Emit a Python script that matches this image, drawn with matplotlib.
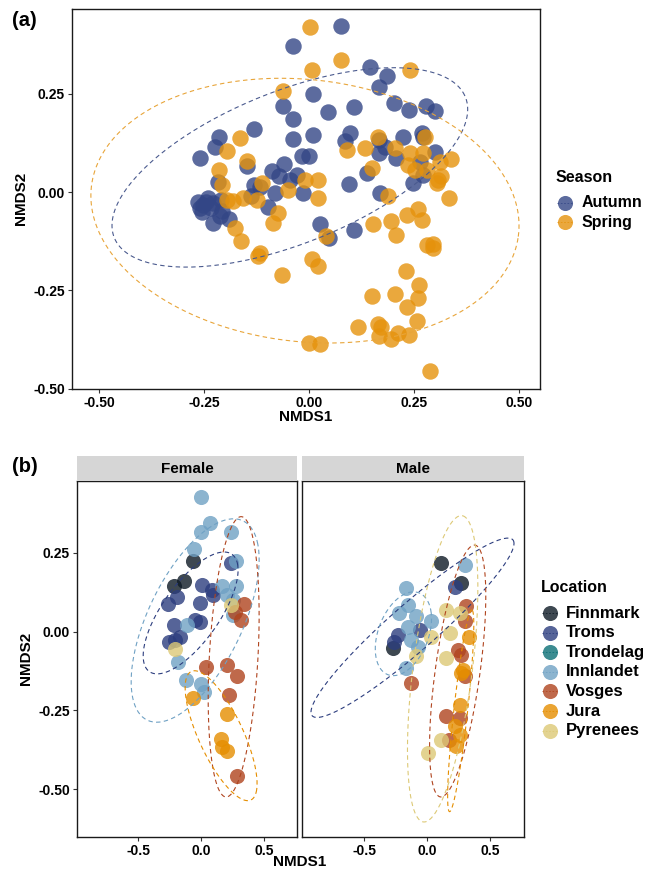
import numpy as np
import matplotlib
matplotlib.use('Agg')
import matplotlib.pyplot as plt

plt.rcParams['font.family'] = ['Liberation Sans', 'DejaVu Sans']
plt.rcParams['axes.unicode_minus'] = False

# ---------------- data: panel (a) ----------------
seasons = ['Autumn', 'Spring']
autumn_x = [-0.039, 0.010, -0.062, -0.039, -0.039, 0.010, -0.131, -0.214, -0.224, -0.260,
            -0.147, -0.216, -0.089, -0.060, -0.071, -0.030, -0.018, 0.000, 0.045, -0.131,
            -0.117, -0.081, -0.014, -0.046, 0.077, 0.146, 0.186, 0.167, 0.107, 0.202,
            0.238, 0.278, 0.301, 0.097, 0.085, 0.167, 0.180, 0.223, 0.268, 0.272,
            0.167, 0.207, 0.301, 0.264, 0.272, 0.137, 0.095, 0.169, -0.252, -0.261,
            -0.240, -0.235, -0.245, -0.255, -0.230, -0.265, -0.228, -0.191, -0.211, -0.207,
            -0.212, -0.097, -0.139, 0.026, 0.047, 0.108, 0.248]
autumn_y = [0.373, 0.249, 0.219, 0.185, 0.136, 0.146, 0.160, 0.141, 0.116, 0.087,
            0.067, 0.025, 0.055, 0.072, 0.042, 0.044, 0.092, 0.092, 0.205, 0.019,
            0.013, -0.002, -0.001, 0.032, 0.422, 0.318, 0.295, 0.268, 0.216, 0.227,
            0.209, 0.219, 0.206, 0.150, 0.129, 0.133, 0.116, 0.141, 0.151, 0.141,
            0.099, 0.087, 0.103, 0.078, 0.044, 0.050, 0.022, -0.002, -0.032, -0.040,
            -0.015, -0.040, -0.025, -0.050, -0.028, -0.025, -0.078, -0.068, -0.019, -0.049,
            -0.061, -0.038, -0.011, -0.082, -0.116, -0.097, 0.023]
spring_x = [0.002, 0.006, -0.063, 0.077, 0.240, -0.165, -0.195, -0.147, -0.214, -0.208,
            -0.196, -0.181, -0.157, -0.125, -0.113, -0.074, -0.085, -0.050, -0.010, 0.022,
            0.022, -0.177, 0.165, 0.089, 0.133, 0.204, 0.276, 0.240, 0.272, 0.236,
            0.252, 0.280, 0.311, 0.339, 0.307, 0.315, 0.149, 0.188, 0.334, 0.232,
            0.260, 0.268, 0.153, 0.196, 0.305, -0.162, -0.117, -0.123, -0.064, 0.006,
            0.020, 0.039, 0.207, 0.280, 0.295, 0.295, 0.231, 0.262, 0.260, 0.205,
            0.149, 0.233, 0.258, 0.116, 0.164, 0.170, 0.166, 0.194, 0.211, 0.238,
            0.000, 0.026, 0.289]
spring_y = [0.420, 0.312, 0.258, 0.337, 0.310, 0.137, 0.106, 0.080, 0.057, 0.019,
            -0.019, -0.023, -0.015, -0.021, 0.023, -0.053, -0.078, 0.006, 0.030, 0.032,
            -0.015, -0.091, 0.141, 0.108, 0.112, 0.112, 0.140, 0.099, 0.099, 0.070,
            0.057, 0.057, 0.078, 0.084, 0.032, 0.040, 0.061, -0.009, -0.015, -0.057,
            -0.044, -0.071, -0.082, -0.074, 0.023, -0.125, -0.154, -0.163, -0.211, -0.169,
            -0.189, -0.112, -0.108, -0.135, -0.133, -0.141, -0.200, -0.237, -0.270, -0.259,
            -0.265, -0.291, -0.327, -0.344, -0.335, -0.344, -0.365, -0.373, -0.358, -0.363,
            -0.384, -0.386, -0.454]

# 95% ellipses of panel (a) (centre, semi-axes, angle in degrees)
ell_a_group = ['Autumn', 'Spring']
ell_a_cx = [-0.046, -0.010]
ell_a_cy = [0.063, -0.047]
ell_a_major = [0.455, 0.5125]
ell_a_minor = [0.192, 0.333]
ell_a_angle = [23.7, -7.4]

# ---------------- data: panel (b) ----------------
locations = ['Finnmark', 'Troms', 'Trondelag', 'Innlandet', 'Vosges', 'Jura', 'Pyrenees']
sexes = ['Female', 'Male']

female_loc = (['Finnmark'] * 3 + ['Troms'] * 13 + ['Innlandet'] * 16 + ['Vosges'] * 8
              + ['Jura'] * 5 + ['Pyrenees'] * 2)
female_x = [-0.066, -0.220, -0.135,
            0.239, -0.194, -0.268, 0.005, 0.085, 0.098, -0.008, -0.048, -0.008, -0.220, -0.167, -0.260, -0.207,
            0.000, 0.072, 0.000, 0.239, -0.061, 0.279, 0.165, 0.279, 0.204, 0.257, 0.257, -0.114, -0.181, -0.119, 0.000, 0.024,
            0.342, 0.271, 0.318, 0.040, 0.204, 0.289, 0.225, 0.289,
            -0.066, 0.204, 0.159, 0.165, 0.204,
            0.236, -0.207]
female_y = [0.222, 0.145, 0.159,
            0.217, 0.111, 0.088, 0.148, 0.132, 0.116, 0.090, 0.037, 0.029, 0.021, -0.016, -0.032, -0.026,
            0.426, 0.345, 0.317, 0.317, 0.261, 0.225, 0.143, 0.143, 0.116, 0.100, 0.053, 0.021, -0.095, -0.155, -0.167, -0.190,
            0.088, 0.063, 0.037, -0.111, -0.106, -0.140, -0.201, -0.457,
            -0.211, -0.261, -0.340, -0.366, -0.377,
            0.085, -0.056]

male_loc = (['Finnmark'] * 3 + ['Troms'] * 4 + ['Innlandet'] * 10 + ['Vosges'] * 9
            + ['Jura'] * 7 + ['Pyrenees'] * 8)
male_x = [0.106, 0.270, -0.274,
          0.217, -0.061, -0.234, -0.260,
          0.302, -0.167, -0.154, -0.220, -0.088, 0.032, -0.154, -0.127, -0.075, -0.167,
          0.310, 0.302, 0.244, 0.271, -0.127, 0.297, 0.151, 0.257, 0.170,
          0.329, 0.283, 0.271, 0.257, 0.217, 0.257, 0.231,
          0.151, 0.257, 0.032, 0.178, 0.151, -0.088, 0.106, 0.005]
male_y = [0.217, 0.155, -0.053,
          0.141, 0.005, -0.010, -0.032,
          0.211, 0.137, 0.085, 0.058, 0.048, 0.032, 0.016, -0.026, -0.048, -0.116,
          0.081, 0.032, -0.058, -0.074, -0.164, -0.140, -0.269, -0.274, -0.343,
          -0.016, -0.121, -0.132, -0.232, -0.299, -0.327, -0.364,
          0.067, 0.058, -0.016, -0.005, -0.084, -0.079, -0.343, -0.385]

# 95% ellipses of panel (b)
ell_f_group = ['Troms', 'Innlandet', 'Vosges', 'Jura']
ell_f_cx = [-0.084, -0.048, 0.259, 0.159]
ell_f_cy = [0.059, 0.035, -0.080, -0.330]
ell_f_major = [0.405, 0.555, 0.449, 0.332]
ell_f_minor = [0.128, 0.237, 0.192, 0.120]
ell_f_angle = [22.1, 25.8, 80.6, -32.7]

ell_m_group = ['Troms', 'Innlandet', 'Vosges', 'Jura', 'Pyrenees']
ell_m_cx = [-0.117, -0.189, 0.241, 0.265, 0.122]
ell_m_cy = [0.012, -0.007, -0.125, -0.251, -0.118]
ell_m_major = [0.848, 0.230, 0.425, 0.332, 0.513]
ell_m_minor = [0.092, 0.120, 0.168, 0.053, 0.224]
ell_m_angle = [18.6, 16.8, 68.0, 74.2, 68.9]

# ---------------- styling ----------------
season_colors = {'Autumn': '#334686', 'Spring': '#E5920C'}
season_line = {'Autumn': '#4A5A8E', 'Spring': '#E8A53A'}
loc_colors = {'Finnmark': '#0E1A26', 'Troms': '#2C3D7E', 'Trondelag': '#0B6F76',
              'Innlandet': '#6FA1C4', 'Vosges': '#B0441E', 'Jura': '#E58E00',
              'Pyrenees': '#DDC976'}
ALPHA = 0.8
DASH = (0, (4, 3))

W, H = 649, 873
fig = plt.figure(figsize=(W / 100, H / 100), dpi=100)


def frac(l, t, r, b):
    return [l / W, 1 - b / H, (r - l) / W, (b - t) / H]


def draw_ellipse(ax, cx, cy, a, b, ang, color):
    t = np.linspace(0, 2 * np.pi, 200)
    th = np.deg2rad(ang)
    ex = cx + a * np.cos(th) * np.cos(t) - b * np.sin(th) * np.sin(t)
    ey = cy + a * np.sin(th) * np.cos(t) + b * np.cos(th) * np.sin(t)
    ax.plot(ex, ey, color=color, lw=0.8, linestyle=DASH, zorder=3)


def style_axes(ax, xticks, xlabels, yticks, ylabels, show_y=True):
    for s in ax.spines.values():
        s.set_linewidth(1.0)
        s.set_color('#1a1a1a')
    ax.tick_params(direction='out', length=3, width=0.8, color='#333333',
                   labelsize=10, labelcolor='black', pad=2)
    ax.set_xticks(xticks, labels=xlabels, fontweight='bold')
    if show_y:
        ax.set_yticks(yticks, labels=ylabels, fontweight='bold')
    else:
        ax.set_yticks(yticks, labels=[])
        ax.tick_params(axis='y', length=0)


# ---------------- panel (a) ----------------
axa = fig.add_axes(frac(72, 9, 540, 388.7))
season_data = {'Autumn': (autumn_x, autumn_y), 'Spring': (spring_x, spring_y)}
for s in seasons:
    x, y = season_data[s]
    axa.scatter(x, y, s=140, color=season_colors[s], alpha=ALPHA, linewidths=0, zorder=2)
for g, cx, cy, a, b, ang in zip(ell_a_group, ell_a_cx, ell_a_cy, ell_a_major,
                                ell_a_minor, ell_a_angle):
    draw_ellipse(axa, cx, cy, a, b, ang, season_line[g])
axa.set_xlim(-0.565, 0.550)
axa.set_ylim(-0.498, 0.466)
ta = [-0.50, -0.25, 0.00, 0.25, 0.50]
tya = [-0.50, -0.25, 0.00, 0.25]
style_axes(axa, ta, ['%.2f' % v for v in ta], tya, ['%.2f' % v for v in tya])
axa.set_xlabel('NMDS1', fontsize=11, fontweight='bold', labelpad=0)
axa.set_ylabel('NMDS2', fontsize=11, fontweight='bold', labelpad=4)

# ---------------- panel (b) ----------------
panel_box = {'Female': (77, 297), 'Male': (302.3, 523.7)}
panel_data = {'Female': (female_loc, female_x, female_y), 'Male': (male_loc, male_x, male_y)}
panel_ell = {'Female': (ell_f_group, ell_f_cx, ell_f_cy, ell_f_major, ell_f_minor, ell_f_angle),
             'Male': (ell_m_group, ell_m_cx, ell_m_cy, ell_m_major, ell_m_minor, ell_m_angle)}
txb = [-0.5, 0.0, 0.5]
tyb = [-0.50, -0.25, 0.00, 0.25]
axes_b = {}
for i, sx in enumerate(sexes):
    l, r = panel_box[sx]
    ax = fig.add_axes(frac(l, 480.7, r, 836.7))
    axes_b[sx] = ax
    locs, xs, ys = panel_data[sx]
    locs = np.array(locs)
    xs = np.array(xs)
    ys = np.array(ys)
    for loc in locations:
        m = locs == loc
        if m.sum() == 0:
            continue
        ax.scatter(xs[m], ys[m], s=118, color=loc_colors[loc], alpha=ALPHA,
                   linewidths=0, zorder=2)
    for g, cx, cy, a, b, ang in zip(*panel_ell[sx]):
        draw_ellipse(ax, cx, cy, a, b, ang, loc_colors[g])
    ax.set_xlim(-0.99, 0.764)
    ax.set_ylim(-0.650, 0.478)
    style_axes(ax, txb, ['%.1f' % v for v in txb], tyb, ['%.2f' % v for v in tyb],
               show_y=(i == 0))
    # strip
    st = fig.add_axes(frac(l, 456, r, 480.7))
    st.set_facecolor('#D6D6D6')
    st.set_xticks([])
    st.set_yticks([])
    for s in st.spines.values():
        s.set_visible(False)
    st.text(0.5, 0.47, sx, ha='center', va='center', fontsize=11, fontweight='bold',
            transform=st.transAxes)

axes_b['Female'].set_ylabel('NMDS2', fontsize=11, fontweight='bold', labelpad=4)
fig.text(300 / W, 1 - 862 / H, 'NMDS1', ha='center', va='center', fontsize=11,
         fontweight='bold')

# panel tags
fig.text(12 / W, 1 - 21 / H, '(a)', ha='left', va='center', fontsize=14.5, fontweight='bold')
fig.text(12 / W, 1 - 466 / H, '(b)', ha='left', va='center', fontsize=14.5, fontweight='bold')

# ---------------- legends (overlay in pixel space) ----------------
ov = fig.add_axes([0, 0, 1, 1], zorder=10)
ov.set_xlim(0, W)
ov.set_ylim(H, 0)
ov.axis('off')


def legend_block(title, names, colors, x_title, y_title, x_key, x_text, y0, dy, fs):
    ov.text(x_title, y_title, title, ha='left', va='center', fontsize=11.5,
            fontweight='bold')
    for k, nm in enumerate(names):
        yy = y0 + k * dy
        ov.scatter([x_key], [yy], s=118, color=colors[nm], alpha=ALPHA, linewidths=0)
        ov.plot([x_key - 8, x_key + 8], [yy, yy], color=colors[nm], lw=0.6,
                linestyle=(0, (2, 2)), alpha=0.9)
        ov.text(x_text, yy, nm, ha='left', va='center', fontsize=fs, fontweight='bold')


legend_block('Season', seasons, season_colors, 556, 177, 565, 582, 202.5, 19.5, 11.5)
legend_block('Location', locations, loc_colors, 541, 588, 550, 566, 613, 19.6, 12)

fig.savefig('out.png', dpi=100)
